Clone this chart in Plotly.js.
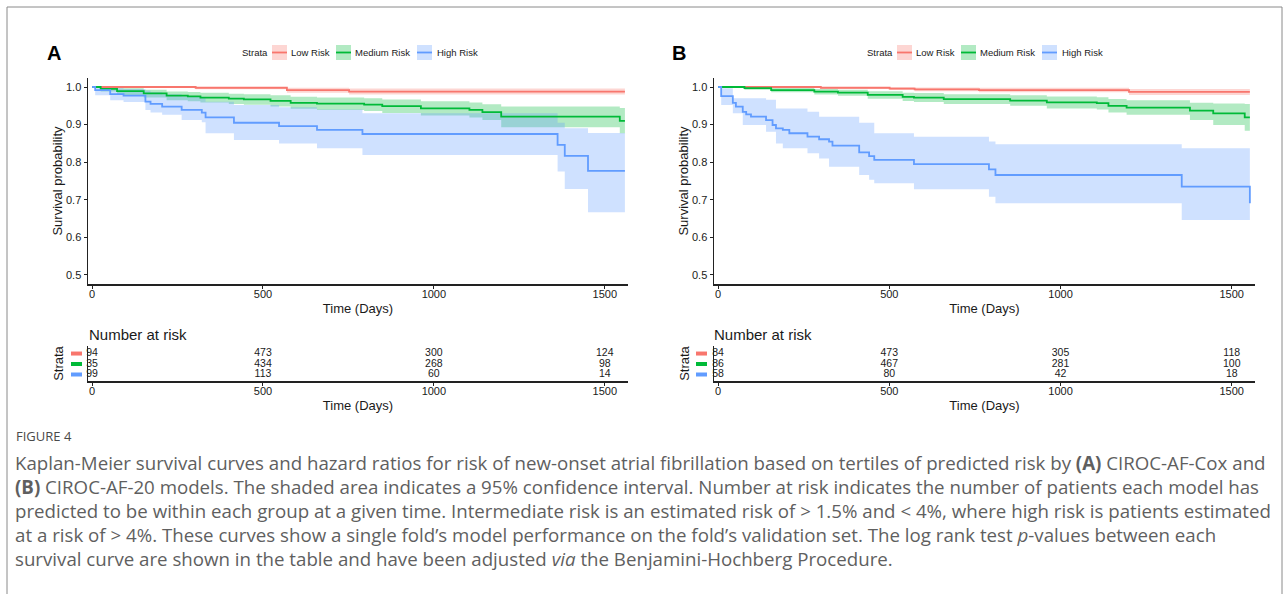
<!DOCTYPE html>
<html><head><meta charset="utf-8">
<script src="https://cdn.plot.ly/plotly-3.0.1.min.js"></script>
<style>html,body{margin:0;padding:0;background:#fff}</style>
</head><body>
<div id="chart" style="width:1288px;height:594px"></div>
<script>
// ---------- Panel A (CIROC-AF-Cox) ----------
const lowA_t  = [0, 303, 570, 752, 1559];
const lowA_s  = [1, 0.998, 0.992, 0.988, 0.988];
const lowA_up = [1, 1, 0.998, 0.996, 0.996];
const lowA_lo = [1, 0.994, 0.985, 0.980, 0.980];

const medA_t  = [0, 25, 73, 151, 218, 280, 317, 400, 444, 522, 581, 658, 796, 849, 962, 1104, 1142, 1197, 1544, 1559];
const medA_s  = [1, 0.995, 0.989, 0.983, 0.977, 0.975, 0.972, 0.969, 0.967, 0.963, 0.958, 0.956, 0.953, 0.949, 0.943, 0.939, 0.933, 0.921, 0.910, 0.910];
const medA_up = [1, 1, 0.997, 0.993, 0.988, 0.987, 0.985, 0.982, 0.981, 0.978, 0.974, 0.972, 0.970, 0.967, 0.962, 0.959, 0.954, 0.948, 0.944, 0.944];
const medA_lo = [1, 0.988, 0.979, 0.972, 0.965, 0.962, 0.959, 0.955, 0.953, 0.948, 0.942, 0.939, 0.936, 0.931, 0.924, 0.919, 0.912, 0.893, 0.877, 0.877];

const highA_t  = [0, 9, 53, 92, 156, 171, 205, 262, 321, 332, 415, 547, 658, 791, 1362, 1383, 1451, 1559];
const highA_s  = [1, 0.992, 0.981, 0.977, 0.961, 0.955, 0.948, 0.939, 0.932, 0.919, 0.905, 0.896, 0.886, 0.875, 0.846, 0.817, 0.777, 0.777];
const highA_up = [1, 1, 0.997, 0.995, 0.990, 0.986, 0.981, 0.975, 0.970, 0.961, 0.952, 0.946, 0.940, 0.930, 0.905, 0.890, 0.878, 0.878];
const highA_lo = [1, 0.978, 0.965, 0.960, 0.939, 0.932, 0.926, 0.912, 0.906, 0.877, 0.859, 0.850, 0.837, 0.819, 0.775, 0.729, 0.667, 0.667];

// ---------- Panel B (CIROC-AF-20) ----------
const lowB_t  = [0, 300, 501, 574, 762, 1200, 1553];
const lowB_s  = [1, 0.998, 0.996, 0.994, 0.992, 0.987, 0.987];
const lowB_up = [1, 1, 1, 0.999, 0.998, 0.995, 0.995];
const lowB_lo = [1, 0.995, 0.992, 0.989, 0.986, 0.979, 0.979];

const medB_t  = [0, 77, 155, 281, 350, 437, 539, 572, 659, 853, 960, 1106, 1140, 1193, 1378, 1446, 1538, 1553];
const medB_s  = [1, 0.997, 0.992, 0.988, 0.985, 0.979, 0.974, 0.972, 0.968, 0.964, 0.959, 0.957, 0.950, 0.945, 0.937, 0.930, 0.919, 0.919];
const medB_up = [1, 1, 0.998, 0.995, 0.993, 0.989, 0.985, 0.984, 0.981, 0.978, 0.975, 0.973, 0.968, 0.965, 0.958, 0.956, 0.955, 0.955];
const medB_lo = [1, 0.993, 0.986, 0.980, 0.977, 0.969, 0.963, 0.960, 0.955, 0.950, 0.943, 0.940, 0.932, 0.926, 0.912, 0.899, 0.884, 0.884];

const highB_t  = [0, 9, 43, 52, 72, 82, 96, 140, 159, 169, 189, 208, 261, 295, 324, 334, 412, 441, 456, 572, 791, 810, 1354, 1553];
const highB_s  = [1, 0.976, 0.958, 0.948, 0.934, 0.927, 0.921, 0.912, 0.899, 0.890, 0.886, 0.877, 0.868, 0.861, 0.855, 0.844, 0.826, 0.816, 0.806, 0.795, 0.781, 0.766, 0.735, 0.691];
const highB_up = [1, 0.997, 0.970, 0.970, 0.970, 0.970, 0.970, 0.966, 0.966, 0.943, 0.943, 0.943, 0.934, 0.921, 0.921, 0.921, 0.905, 0.905, 0.877, 0.868, 0.855, 0.848, 0.837, 0.837];
const highB_lo = [1, 0.952, 0.930, 0.930, 0.899, 0.899, 0.899, 0.881, 0.881, 0.850, 0.837, 0.837, 0.824, 0.810, 0.788, 0.788, 0.766, 0.753, 0.744, 0.728, 0.708, 0.691, 0.646, 0.646];

// ---------- Number at risk ----------
const riskTimes = [0, 500, 1000, 1500];
const riskLowA  = ['94', '473', '300', '124'];
const riskMedA  = ['35', '434', '268', '98'];
const riskHighA = ['99', '113', '60', '14'];
const riskLowB  = ['84', '473', '305', '118'];
const riskMedB  = ['86', '467', '281', '100'];
const riskHighB = ['58', '80', '42', '18'];

const strataNames = ['Low Risk', 'Medium Risk', 'High Risk'];
const xTicks = [0, 500, 1000, 1500];
const yTicks = [0.5, 0.6, 0.7, 0.8, 0.9, 1.0];

const captionLines = [
  'Kaplan-Meier survival curves and hazard ratios for risk of new-onset atrial fibrillation based on tertiles of predicted risk by <b>(A)</b> CIROC-AF-Cox and',
  '<b>(B)</b> CIROC-AF-20 models. The shaded area indicates a 95% confidence interval. Number at risk indicates the number of patients each model has',
  'predicted to be within each group at a given time. Intermediate risk is an estimated risk of &gt; 1.5% and &lt; 4%, where high risk is patients estimated',
  'at a risk of &gt; 4%. These curves show a single fold\u2019s model performance on the fold\u2019s validation set. The log rank test <i>p</i>-values between each',
  'survival curve are shown in the table and have been adjusted <i>via</i> the Benjamini-Hochberg Procedure.'
];

// ---------- styling ----------
const W = 1288, H = 594;
const PX = x => x / W;
const PY = y => 1 - y / H;
const COL = ['#F8766D', '#00BA38', '#619CFF'];
const FILL = ['rgba(248,118,109,0.3)', 'rgba(0,186,56,0.3)', 'rgba(97,156,255,0.3)'];
const FONT = 'Liberation Sans, Arial, Helvetica, sans-serif';
const TXT = '#1a1a1a';

const traces = [];
function addBand(t, lo, up, i, xa, ya) {
  traces.push({x: t, y: lo, xaxis: xa, yaxis: ya, mode: 'lines', line: {width: 0, shape: 'hv'}, showlegend: false, hoverinfo: 'skip'});
  traces.push({x: t, y: up, xaxis: xa, yaxis: ya, mode: 'lines', line: {width: 0, shape: 'hv'}, fill: 'tonexty', fillcolor: FILL[i], showlegend: false, hoverinfo: 'skip'});
}
function addLine(t, s, i, xa, ya) {
  traces.push({x: t, y: s, xaxis: xa, yaxis: ya, mode: 'lines', name: strataNames[i], line: {width: 1.8, shape: 'hv', color: COL[i]}, showlegend: false, hoverinfo: 'skip'});
}
addBand(lowA_t, lowA_lo, lowA_up, 0, 'x', 'y');
addBand(medA_t, medA_lo, medA_up, 1, 'x', 'y');
addBand(highA_t, highA_lo, highA_up, 2, 'x', 'y');
addLine(lowA_t, lowA_s, 0, 'x', 'y');
addLine(medA_t, medA_s, 1, 'x', 'y');
addLine(highA_t, highA_s, 2, 'x', 'y');
addBand(lowB_t, lowB_lo, lowB_up, 0, 'x2', 'y2');
addBand(medB_t, medB_lo, medB_up, 1, 'x2', 'y2');
addBand(highB_t, highB_lo, highB_up, 2, 'x2', 'y2');
addLine(lowB_t, lowB_s, 0, 'x2', 'y2');
addLine(medB_t, medB_s, 1, 'x2', 'y2');
addLine(highB_t, highB_s, 2, 'x2', 'y2');

const rowOf = [3, 2, 1];
function addRisk(vals, i, xa, ya) {
  traces.push({x: riskTimes, y: riskTimes.map(() => rowOf[i]), text: vals, xaxis: xa, yaxis: ya,
    mode: 'text', textposition: 'middle center', textfont: {family: FONT, size: 10.5, color: TXT},
    cliponaxis: false, showlegend: false, hoverinfo: 'skip'});
}
addRisk(riskLowA, 0, 'x3', 'y3'); addRisk(riskMedA, 1, 'x3', 'y3'); addRisk(riskHighA, 2, 'x3', 'y3');
addRisk(riskLowB, 0, 'x4', 'y4'); addRisk(riskMedB, 1, 'x4', 'y4'); addRisk(riskHighB, 2, 'x4', 'y4');

const xRange = [-12, 1568];
function xAxis(dom, anchor) {
  return {domain: dom, anchor: anchor, range: xRange, showline: true, linecolor: '#222', linewidth: 1.5,
    ticks: 'outside', ticklen: 3, tickwidth: 1, tickcolor: '#222', tickvals: xTicks, ticklabelstandoff: -4,
    tickfont: {family: FONT, size: 11, color: TXT}, showgrid: false, zeroline: false, fixedrange: true,
    title: {text: 'Time (Days)', font: {family: FONT, size: 13, color: TXT}, standoff: 5}};
}
function yMain(anchor) {
  return {domain: [PY(284), PY(78)], anchor: anchor, range: [0.476, 1.024], showline: true, linecolor: '#222', linewidth: 1.5,
    ticks: 'outside', ticklen: 3, tickwidth: 1, tickcolor: '#222', tickvals: yTicks, tickformat: '.1f',
    tickfont: {family: FONT, size: 11, color: TXT}, showgrid: false, zeroline: false, fixedrange: true,
    title: {text: 'Survival probability', font: {family: FONT, size: 13, color: TXT}, standoff: 0}};
}
function yRisk(anchor) {
  return {domain: [PY(381), PY(346)], anchor: anchor, range: [0.38, 3.72], showline: true, linecolor: '#222', linewidth: 1,
    ticks: '', showticklabels: false, showgrid: false, zeroline: false, fixedrange: true,
    title: {text: 'Strata', font: {family: FONT, size: 13, color: TXT}, standoff: 20}};
}
const domA = [PX(88), PX(628)], domB = [PX(714), PX(1255)];

const shapes = [];
const annotations = [];
// frame
[[7,7,1282,7],[7,7,7,594],[1282,7,1282,594]].forEach(s => shapes.push({type:'line', xref:'paper', yref:'paper',
  x0: PX(s[0]), y0: PY(s[1]), x1: PX(s[2]), y1: PY(s[3]), line: {color: '#8a8a8a', width: 1}}));

// panel labels, legends, table titles
function panelDecor(off, label, yaRisk) {
  annotations.push({xref:'paper', yref:'paper', x: PX(54 + off), y: PY(53), text: '<b>' + label + '</b>', showarrow: false,
    xanchor: 'center', yanchor: 'middle', font: {family: FONT, size: 20, color: '#000'}});
  annotations.push({xref:'paper', yref:'paper', x: PX(240 + off), y: PY(52.5), text: 'Strata', showarrow: false,
    xanchor: 'left', yanchor: 'middle', font: {family: FONT, size: 9.5, color: TXT}});
  const keyX = [272, 336, 417], txtX = [289, 353, 435];
  for (let i = 0; i < 3; i++) {
    shapes.push({type:'rect', xref:'paper', yref:'paper', x0: PX(keyX[i] + off), x1: PX(keyX[i] + 15 + off), y0: PY(60), y1: PY(45),
      fillcolor: FILL[i], line: {width: 0}});
    shapes.push({type:'line', xref:'paper', yref:'paper', x0: PX(keyX[i] + off), x1: PX(keyX[i] + 15 + off), y0: PY(52.5), y1: PY(52.5),
      line: {color: COL[i], width: 1.8}});
    annotations.push({xref:'paper', yref:'paper', x: PX(txtX[i] + off), y: PY(52.5), text: strataNames[i], showarrow: false,
      xanchor: 'left', yanchor: 'middle', font: {family: FONT, size: 9.5, color: TXT}});
    shapes.push({type:'line', xref:'paper', yref: yaRisk, x0: PX(71 + off), x1: PX(82 + off), y0: rowOf[i], y1: rowOf[i],
      line: {color: COL[i], width: 4}});
  }
  annotations.push({xref:'paper', yref:'paper', x: PX(87 + off), y: PY(334), text: 'Number at risk', showarrow: false,
    xanchor: 'left', yanchor: 'middle', font: {family: FONT, size: 15, color: TXT}});
}
panelDecor(0, 'A', 'y3');
panelDecor(625, 'B', 'y4');

// caption
annotations.push({xref:'paper', yref:'paper', x: PX(14), y: PY(436), text: 'FIGURE 4', showarrow: false,
  xanchor: 'left', yanchor: 'middle', font: {family: 'Open Sans, sans-serif', size: 13, color: '#4a4a4a'}});
captionLines.forEach((t, k) => annotations.push({xref:'paper', yref:'paper', x: PX(13), y: PY(462 + 24 * k), text: t, showarrow: false,
  xanchor: 'left', yanchor: 'middle', font: {family: 'Open Sans, sans-serif', size: 18.7, color: '#5f5f5f'}}));

const layout = {
  width: W, height: H, margin: {l: 0, r: 0, t: 0, b: 0}, paper_bgcolor: '#fff', plot_bgcolor: 'rgba(0,0,0,0)',
  showlegend: false, font: {family: FONT, color: TXT},
  xaxis: xAxis(domA, 'y'), yaxis: yMain('x'),
  xaxis2: xAxis(domB, 'y2'), yaxis2: yMain('x2'),
  xaxis3: xAxis(domA, 'y3'), yaxis3: yRisk('x3'),
  xaxis4: xAxis(domB, 'y4'), yaxis4: yRisk('x4'),
  shapes: shapes, annotations: annotations
};
Plotly.newPlot('chart', traces, layout, {staticPlot: true, displayModeBar: false});
</script>
</body></html>
